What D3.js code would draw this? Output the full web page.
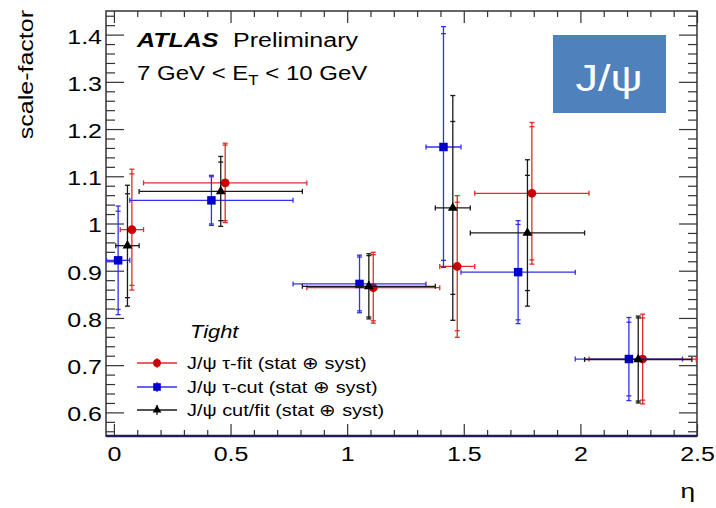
<!DOCTYPE html>
<html><head><meta charset="utf-8">
<script src="https://cdn.jsdelivr.net/npm/d3@7"></script>
<style>body{margin:0;background:#fff}svg{display:block}text{font-family:"Liberation Sans",Arial,sans-serif}</style>
</head><body>
<svg id="c" width="716" height="508"></svg>
<script>
// ---- data ----
const etaLow  = [0.00, 0.10, 0.80, 1.37, 1.52, 2.01];
const etaHigh = [0.10, 0.80, 1.37, 1.52, 2.01, 2.47];
const fitVals = [0.987, 1.086, 0.864, 0.909, 1.064, 0.713];
const fitTot  = [0.128, 0.084, 0.075, 0.150, 0.150, 0.095];
const fitStat = [0.118, 0.080, 0.070, 0.136, 0.141, 0.087];
const cutVals = [0.922, 1.049, 0.872, 1.162, 0.897, 0.713];
const cutTot  = [0.115, 0.053, 0.061, 0.255, 0.109, 0.088];
const cutStat = [0.104, 0.050, 0.057, 0.240, 0.101, 0.078];
const cfVals  = [0.953, 1.068, 0.867, 1.033, 0.980, 0.712];
const cfTot   = [0.128, 0.074, 0.069, 0.238, 0.155, 0.092];
const cfStat  = [0.110, 0.062, 0.065, 0.183, 0.122, 0.088];
const seriesNames = ["J/\u03C8 \u03C4-fit (stat \u2295 syst)", "J/\u03C8 \u03C4-cut (stat \u2295 syst)", "J/\u03C8 cut/fit (stat \u2295 syst)"];
const xTickVals = [0, 0.5, 1, 1.5, 2, 2.5];
const yTickVals = [0.6, 0.7, 0.8, 0.9, 1.0, 1.1, 1.2, 1.3, 1.4];

// ---- layout ----
const L = 106, R = 697, T = 11, B = 436;
const SX = 1.25; // text horizontal stretch
const svg = d3.select("#c");
const x = d3.scaleLinear().domain([-0.034, 2.5]).range([L, R]);
const y = d3.scaleLinear().domain([0.55, 1.45]).range([B, T]);

const series = [
  {name: seriesNames[0], v: fitVals, tot: fitTot, stat: fitStat, shift: 0.027, line: "#e42a2a", fill: "#cc0000", sym: "circle"},
  {name: seriesNames[1], v: cutVals, tot: cutTot, stat: cutStat, shift: -0.032, line: "#3030ee", fill: "#0000cc", sym: "square"},
  {name: seriesNames[2], v: cfVals, tot: cfTot, stat: cfStat, shift: 0.008, line: "#1a1a1a", fill: "#000000", sym: "triangle"}
];

function stretch(sel, sx) {
  sel.each(function(){
    const t = d3.select(this);
    const tx = +t.attr("x") || 0, ty = +t.attr("y") || 0;
    t.attr("x", 0).attr("y", 0).attr("transform", `translate(${tx},${ty}) scale(${sx},1)`);
  });
}

// clip
svg.append("clipPath").attr("id","clip").append("rect").attr("x",L).attr("y",T).attr("width",R-L).attr("height",B-T);

// axes ticks
const fmt = v => String(Math.round(v*10)/10);
const yMinor = d3.range(0.56, 1.4401, 0.02).filter(v => Math.abs(v*10 - Math.round(v*10)) > 1e-6);
const xMinor = d3.range(0, 2.5001, 0.1).filter(v => Math.abs(v*2 - Math.round(v*2)) > 1e-6);

const gl = svg.append("g").attr("transform",`translate(${L},0)`);
gl.call(d3.axisLeft(y).tickValues(yTickVals).tickSize(-18).tickPadding(4).tickFormat(fmt));
gl.append("g").call(d3.axisLeft(y).tickValues(yMinor).tickSize(-9).tickFormat(""));
const gr = svg.append("g").attr("transform",`translate(${R},0)`);
gr.call(d3.axisRight(y).tickValues(yTickVals).tickSize(-18).tickFormat(""));
gr.append("g").call(d3.axisRight(y).tickValues(yMinor).tickSize(-9).tickFormat(""));
const gb = svg.append("g").attr("transform",`translate(0,${B})`);
gb.call(d3.axisBottom(x).tickValues(xTickVals).tickSize(-12).tickPadding(10.5).tickFormat(fmt));
gb.append("g").call(d3.axisBottom(x).tickValues(xMinor).tickSize(-6).tickFormat(""));
const gt = svg.append("g").attr("transform",`translate(0,${T})`);
gt.call(d3.axisTop(x).tickValues(xTickVals).tickSize(-12).tickFormat(""));
gt.append("g").call(d3.axisTop(x).tickValues(xMinor).tickSize(-6).tickFormat(""));
svg.selectAll(".domain").remove();
svg.selectAll(".tick line").attr("stroke","#333").attr("stroke-width",1.2);
svg.selectAll(".tick text").attr("font-size",20).attr("fill","#000").attr("font-family","Liberation Sans, Arial, sans-serif");
gl.selectAll(".tick text").attr("dy","0.42em");
stretch(gl.selectAll(".tick text"), SX);
stretch(gb.selectAll(".tick text"), SX);

// frame
svg.append("rect").attr("x",L).attr("y",T).attr("width",R-L).attr("height",B-T)
  .attr("fill","none").attr("stroke","#333").attr("stroke-width",1.5);
svg.append("line").attr("x1",L).attr("x2",R).attr("y1",B).attr("y2",B).attr("stroke","#1e1e55").attr("stroke-width",2.4);

// data
const plot = svg.append("g").attr("clip-path","url(#clip)");
const cap = 2.5;
function symPath(sym, scale){
  if (sym === "circle") return d3.symbol(d3.symbolCircle, 60*scale)();
  if (sym === "square") return d3.symbol(d3.symbolSquare, 72*scale)();
  return d3.symbol(d3.symbolTriangle, 42*scale)();
}
series.forEach(s => {
  const g = plot.append("g");
  const idx = d3.range(s.v.length);
  idx.forEach(i => {
    const cx = x((etaLow[i]+etaHigh[i])/2 + s.shift);
    const x0 = x(etaLow[i] + s.shift), x1 = x(etaHigh[i] + s.shift);
    const cy = y(s.v[i]);
    const yt = y(s.v[i] + s.tot[i]), yb = y(s.v[i] - s.tot[i]);
    const st = y(s.v[i] + s.stat[i]), sb = y(s.v[i] - s.stat[i]);
    const segs = [
      [x0, cy, x1, cy], [x0, cy-cap, x0, cy+cap], [x1, cy-cap, x1, cy+cap],
      [cx, yt, cx, yb], [cx-cap, yt, cx+cap, yt], [cx-cap, yb, cx+cap, yb],
      [cx-cap, st, cx+cap, st], [cx-cap, sb, cx+cap, sb]
    ];
    g.selectAll(null).data(segs).join("line")
      .attr("x1",d=>d[0]).attr("y1",d=>d[1]).attr("x2",d=>d[2]).attr("y2",d=>d[3])
      .attr("stroke", s.line).attr("stroke-width",1.3);
  });
  g.selectAll("path.m").data(idx).join("path").attr("class","m")
    .attr("d", symPath(s.sym, 1))
    .attr("transform", i => `translate(${x((etaLow[i]+etaHigh[i])/2 + s.shift)},${y(s.v[i])})`)
    .attr("fill", s.fill);
});

// y title
svg.append("text").attr("transform",`translate(33,10) rotate(-90) scale(${SX},1)`)
  .attr("text-anchor","end").attr("font-size",20).text("scale-factor");
// x title
svg.append("text").attr("transform",`translate(695,498) scale(${SX},1)`)
  .attr("text-anchor","end").attr("font-size",21).text("\u03B7");

// ATLAS label
svg.append("text").attr("transform",`translate(137,47) scale(${SX},1)`)
  .attr("font-size",20).attr("font-weight","bold").attr("font-style","italic").text("ATLAS");
svg.append("text").attr("transform",`translate(233,47) scale(${SX},1)`)
  .attr("font-size",20).text("Preliminary");
const et = svg.append("text").attr("transform",`translate(137,80) scale(1.2,1)`).attr("font-size",20);
et.append("tspan").text("7 GeV < E");
et.append("tspan").attr("font-size",14).attr("dy",5).text("T");
et.append("tspan").attr("dy",-5).text(" < 10 GeV");

// J/psi box
svg.append("rect").attr("x",553).attr("y",35).attr("width",113).attr("height",78).attr("fill","#4f81bd");
svg.append("text").attr("transform",`translate(609,91) scale(1.25,1)`).attr("text-anchor","middle")
  .attr("font-size",36).attr("fill","#fff").text("J/\u03C8");

// legend
svg.append("text").attr("transform",`translate(190,338) scale(1.15,1)`)
  .attr("font-size",19).attr("font-style","italic").text("Tight");
const legY = [363, 387, 410];
series.forEach((s, k) => {
  const g = svg.append("g").attr("transform",`translate(0,${legY[k]})`);
  g.append("line").attr("x1",137).attr("x2",177).attr("y1",0).attr("y2",0).attr("stroke",s.line).attr("stroke-width",1.3);
  g.append("line").attr("x1",157).attr("x2",157).attr("y1",-5).attr("y2",5).attr("stroke",s.line).attr("stroke-width",1.3);
  g.append("path").attr("d", symPath(s.sym, 0.8)).attr("transform","translate(157,0)").attr("fill",s.fill);
  g.append("text").attr("transform",`translate(187,6) scale(1.17,1)`).attr("font-size",17).text(s.name);
});
</script>
</body></html>
